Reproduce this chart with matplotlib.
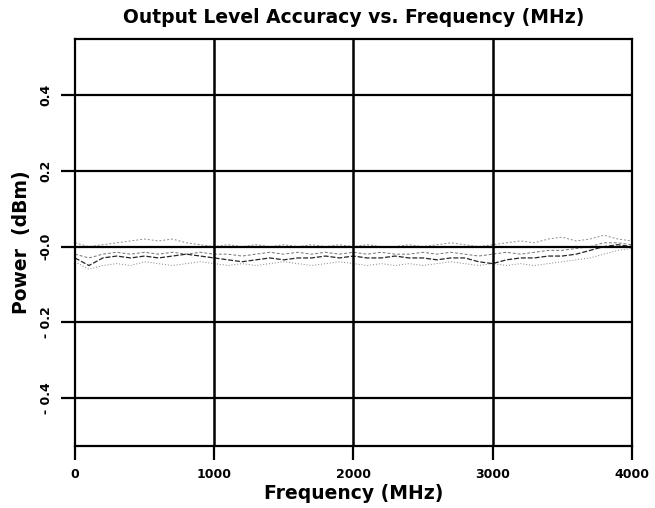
import numpy as np
import matplotlib
matplotlib.use('Agg')
import matplotlib.pyplot as plt

plt.rcParams['font.family'] = ['DejaVu Sans']

# frequency points (MHz) and traces of output level error (dBm)
freq = [0, 100, 200, 300, 400, 500, 600, 700, 800, 900, 1000, 1100, 1200, 1300,
        1400, 1500, 1600, 1700, 1800, 1900, 2000, 2100, 2200, 2300, 2400, 2500,
        2600, 2700, 2800, 2900, 3000, 3100, 3200, 3300, 3400, 3500, 3600, 3700,
        3800, 3900, 4000]
trace_a = [-0.03, -0.05, -0.03, -0.025, -0.03, -0.025, -0.03, -0.025, -0.02, -0.025,
           -0.03, -0.035, -0.04, -0.035, -0.03, -0.035, -0.03, -0.03, -0.025, -0.03,
           -0.025, -0.03, -0.03, -0.025, -0.03, -0.03, -0.035, -0.03, -0.03, -0.04,
           -0.045, -0.035, -0.03, -0.03, -0.025, -0.025, -0.02, -0.01, 0.0, 0.005, 0.0]
trace_b = [0.01, 0.0, 0.005, 0.01, 0.015, 0.02, 0.015, 0.02, 0.01, 0.005,
           0.0, 0.005, 0.0, 0.005, 0.0, 0.005, 0.0, 0.005, 0.0, 0.005,
           0.0, 0.005, 0.0, 0.0, 0.005, 0.0, 0.005, 0.01, 0.005, 0.0,
           0.005, 0.01, 0.015, 0.01, 0.02, 0.025, 0.015, 0.02, 0.03, 0.02, 0.015]
trace_c = [-0.04, -0.06, -0.05, -0.045, -0.05, -0.04, -0.045, -0.05, -0.045, -0.04,
           -0.045, -0.05, -0.045, -0.05, -0.045, -0.04, -0.045, -0.05, -0.045, -0.04,
           -0.045, -0.05, -0.045, -0.05, -0.045, -0.05, -0.045, -0.04, -0.045, -0.05,
           -0.045, -0.05, -0.045, -0.05, -0.045, -0.04, -0.035, -0.03, -0.02, -0.01, -0.005]
trace_d = [-0.02, -0.03, -0.02, -0.015, -0.02, -0.015, -0.02, -0.015, -0.02, -0.015,
           -0.02, -0.02, -0.025, -0.02, -0.015, -0.02, -0.015, -0.02, -0.015, -0.02,
           -0.015, -0.02, -0.015, -0.02, -0.02, -0.015, -0.02, -0.015, -0.02, -0.025,
           -0.02, -0.015, -0.02, -0.015, -0.01, -0.01, -0.005, 0.0, 0.01, 0.01, 0.005]

xticks = [0, 1000, 2000, 3000, 4000]
yticks = [-0.4, -0.2, 0.0, 0.2, 0.4]
ylabels = ['- 0.4', '- 0.2', '-0.0', '0.2', '0.4']

fig = plt.figure(figsize=(6.55, 5.08), dpi=100)
ax = fig.add_axes([0.1145, 0.123, 0.85, 0.801])

for v in yticks:
    ax.axhline(v, color='black', lw=1.6, zorder=3)
for v in xticks[1:-1]:
    ax.axvline(v, color='black', lw=1.8, zorder=3)

ax.plot(freq, trace_b, color='0.55', lw=0.7, ls=(0, (2, 2)), zorder=2)
ax.plot(freq, trace_d, color='0.45', lw=0.7, ls=(0, (3, 2)), zorder=2)
ax.plot(freq, trace_c, color='0.5', lw=0.7, ls=(0, (1, 2)), zorder=2)
ax.plot(freq, trace_a, color='0.15', lw=0.9, ls=(0, (4, 1.5)), zorder=2)

ax.set_xlim(0, 4000)
ax.set_ylim(-0.526, 0.55)
ax.set_xticks(xticks)
ax.set_yticks(yticks)
ax.set_yticklabels(ylabels, rotation=90, va='center')
ax.tick_params(axis='both', direction='out', length=10, width=1.6,
               labelsize=9, pad=6)
for lab in ax.get_xticklabels() + ax.get_yticklabels():
    lab.set_fontweight('bold')
for s in ax.spines.values():
    s.set_linewidth(1.6)

ax.set_xlabel('Frequency (MHz)', fontsize=13.5, fontweight='bold', labelpad=2)
ax.set_ylabel('Power  (dBm)', fontsize=13.5, fontweight='bold', labelpad=6)
ax.set_title('Output Level Accuracy vs. Frequency (MHz)', fontsize=13.5,
             fontweight='bold', pad=11)

fig.savefig('out.png', dpi=100)
